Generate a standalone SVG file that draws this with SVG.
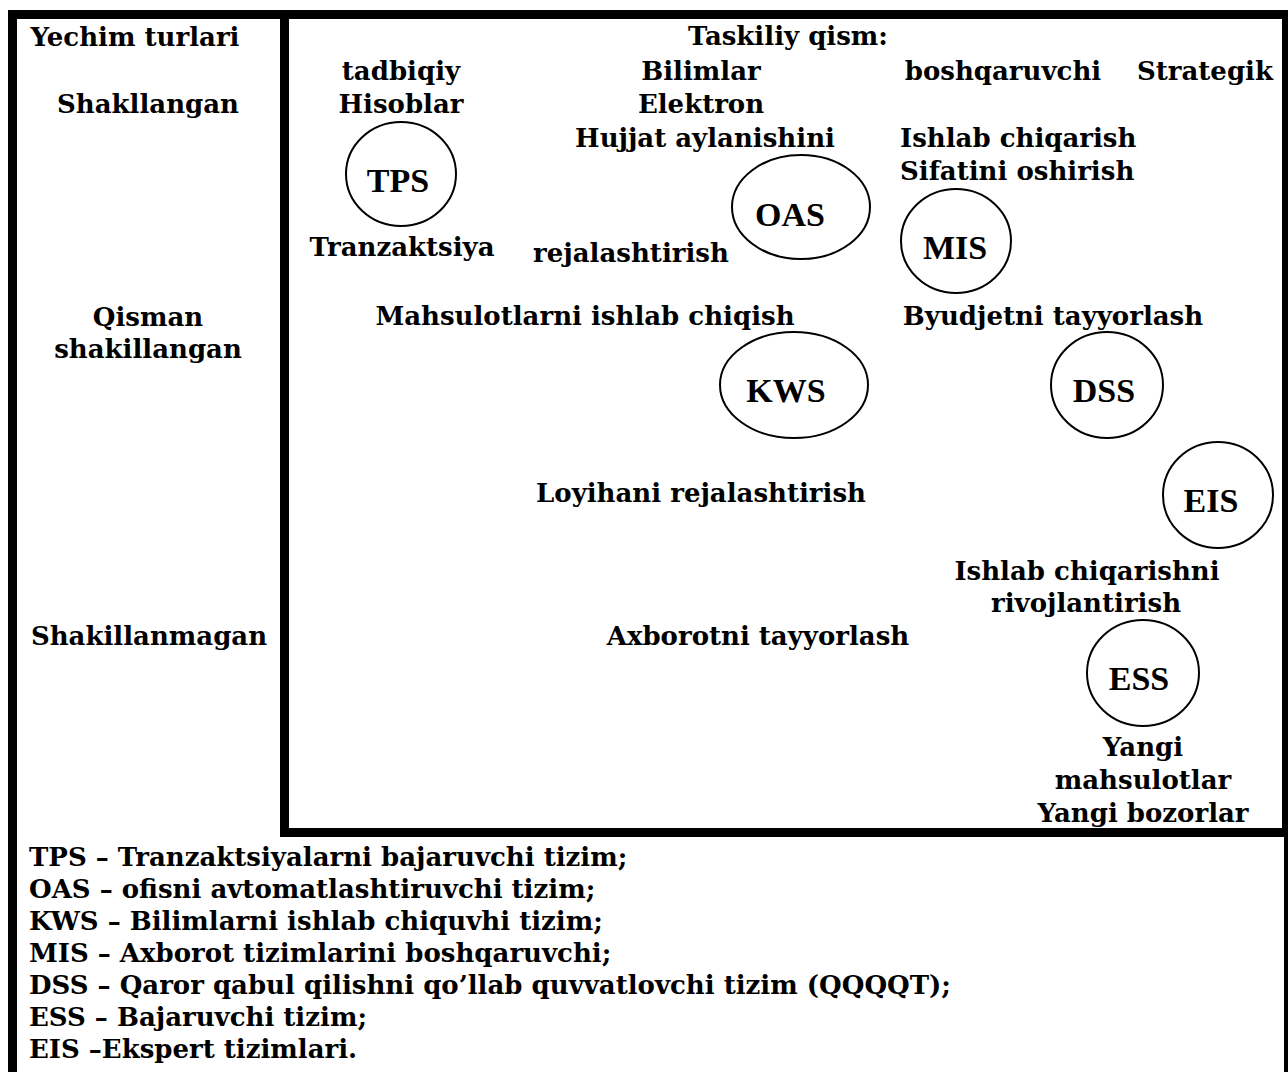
<svg xmlns="http://www.w3.org/2000/svg" width="1288" height="1072" viewBox="0 0 1288 1072">
<style>
.t{font-family:"DejaVu Serif","Liberation Serif",serif;font-weight:bold;font-size:26px;fill:#000}
.c{text-anchor:middle}
.n{font-family:"Liberation Serif","Times New Roman",serif;font-weight:bold;font-size:34px;text-anchor:middle;fill:#000}
.e{fill:#fff;stroke:#000;stroke-width:2}
.b{fill:#000}
</style>
<rect width="1288" height="1072" fill="#fff"/>
<g id="frame">
<rect class="b" x="8" y="10" width="1280" height="9"/>
<rect class="b" x="8" y="10" width="9" height="1062"/>
<rect class="b" x="280" y="10" width="9" height="827"/>
<rect class="b" x="280" y="828" width="1008" height="9"/>
<rect class="b" x="1282" y="10" width="6" height="827"/>
<rect class="b" x="1284" y="837" width="4" height="235"/>
</g>
<g id="left-column">
<text class="t c" x="135" y="46">Yechim turlari</text>
<text class="t c" x="148" y="113">Shakllangan</text>
<text class="t c" x="148" y="326">Qisman</text>
<text class="t c" x="148" y="358">shakillangan</text>
<text class="t c" x="149" y="645">Shakillanmagan</text>
</g>
<g id="labels">
<text class="t c" x="788" y="45">Taskiliy qism:</text>
<text class="t c" x="401" y="80">tadbiqiy</text>
<text class="t c" x="401" y="113">Hisoblar</text>
<text class="t c" x="402" y="256">Tranzaktsiya</text>
<text class="t c" x="701" y="80">Bilimlar</text>
<text class="t c" x="701" y="113">Elektron</text>
<text class="t c" x="705" y="147">Hujjat aylanishini</text>
<text class="t c" x="631" y="262">rejalashtirish</text>
<text class="t c" x="1003" y="80">boshqaruvchi</text>
<text class="t c" x="1205" y="80">Strategik</text>
<text class="t" x="900" y="147">Ishlab chiqarish</text>
<text class="t" x="900" y="180">Sifatini oshirish</text>
<text class="t c" x="585" y="325">Mahsulotlarni ishlab chiqish</text>
<text class="t c" x="1053" y="325">Byudjetni tayyorlash</text>
<text class="t c" x="701" y="502">Loyihani rejalashtirish</text>
<text class="t c" x="1087" y="580">Ishlab chiqarishni</text>
<text class="t c" x="1086" y="612">rivojlantirish</text>
<text class="t c" x="758" y="645">Axborotni tayyorlash</text>
<text class="t c" x="1143" y="756">Yangi</text>
<text class="t c" x="1143" y="789">mahsulotlar</text>
<text class="t c" x="1143" y="822">Yangi bozorlar</text>
</g>
<g id="TPS"><ellipse class="e" cx="401" cy="174" rx="55" ry="52"/><text class="n" x="398" y="192">TPS</text></g>
<g id="OAS"><ellipse class="e" cx="801" cy="207" rx="69" ry="52"/><text class="n" x="790" y="226">OAS</text></g>
<g id="MIS"><ellipse class="e" cx="956" cy="241" rx="55" ry="52"/><text class="n" x="955" y="259">MIS</text></g>
<g id="KWS"><ellipse class="e" cx="794" cy="385" rx="74" ry="53"/><text class="n" x="786" y="402">KWS</text></g>
<g id="DSS"><ellipse class="e" cx="1107" cy="385" rx="56" ry="53"/><text class="n" x="1104" y="402">DSS</text></g>
<g id="EIS"><ellipse class="e" cx="1218" cy="495" rx="55" ry="53"/><text class="n" x="1211" y="512">EIS</text></g>
<g id="ESS"><ellipse class="e" cx="1143" cy="673" rx="56" ry="53"/><text class="n" x="1139" y="690">ESS</text></g>
<g id="connectors"></g>
<g id="legend">
<text class="t" x="29" y="866">TPS – Tranzaktsiyalarni bajaruvchi tizim;</text>
<text class="t" x="29" y="898">OAS – ofisni avtomatlashtiruvchi tizim;</text>
<text class="t" x="29" y="930">KWS – Bilimlarni ishlab chiquvhi tizim;</text>
<text class="t" x="29" y="962">MIS – Axborot tizimlarini boshqaruvchi;</text>
<text class="t" x="29" y="994">DSS – Qaror qabul qilishni qo’llab quvvatlovchi tizim (QQQQT);</text>
<text class="t" x="29" y="1026">ESS – Bajaruvchi tizim;</text>
<text class="t" x="29" y="1058">EIS –Ekspert tizimlari.</text>
</g>
</svg>
